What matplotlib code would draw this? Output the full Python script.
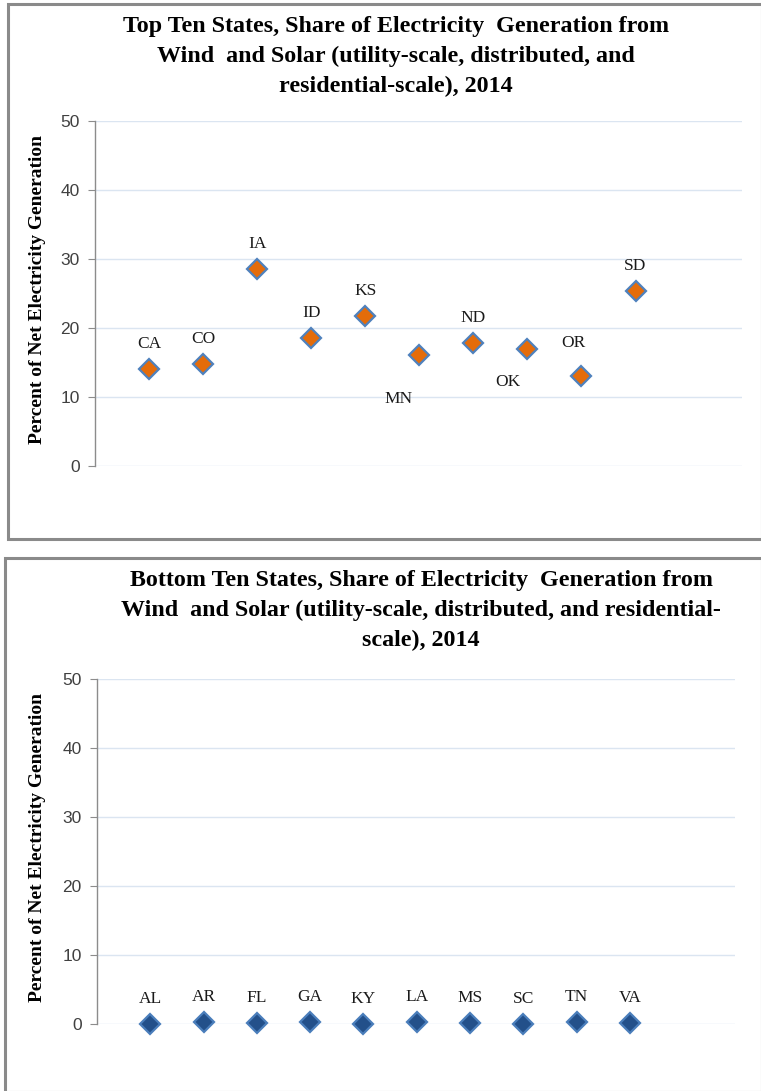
import matplotlib
matplotlib.use("Agg")
import matplotlib.pyplot as plt
from matplotlib.patches import Rectangle

# data (percent of net generation, 2014)
top_states = ['CA', 'CO', 'IA', 'ID', 'KS', 'MN', 'ND', 'OK', 'OR', 'SD']
top_share = [14.0, 14.8, 28.6, 18.5, 21.7, 16.1, 17.8, 17.0, 13.0, 25.4]

bottom_states = ['AL', 'AR', 'FL', 'GA', 'KY', 'LA', 'MS', 'SC', 'TN', 'VA']
bottom_share = [0.05, 0.35, 0.2, 0.3, 0.05, 0.25, 0.1, 0.05, 0.3, 0.1]

y_ticks = [0, 10, 20, 30, 40, 50]

top_title = ("Top Ten States, Share of Electricity  Generation from\n"
             "Wind  and Solar (utility-scale, distributed, and\n"
             "residential-scale), 2014")
bottom_title = ("Bottom Ten States, Share of Electricity  Generation from\n"
                "Wind  and Solar (utility-scale, distributed, and residential-\n"
                "scale), 2014")
y_label = "Percent of Net Electricity Generation"

# label offsets (points) for the hand-placed labels in the top chart
top_offsets = {'MN': (-15, -32), 'OK': (-14, -24), 'OR': (-6, 24)}

W, H = 761, 1091
fig = plt.figure(figsize=(W / 100, H / 100), dpi=100)

serif = 'Liberation Serif'
grid_c = '#dbe5f1'
spine_c = '#8c8c8c'


def px(x0, y0, x1, y1):
    # pixel box (top-left origin) -> figure fraction rect
    return [x0 / W, 1 - y1 / H, (x1 - x0) / W, (y1 - y0) / H]


def style_axes(ax):
    ax.set_xlim(0, 11.97)
    ax.set_ylim(0, 50)
    ax.set_yticks(y_ticks)
    ax.set_xticks([])
    for s in ['top', 'right', 'bottom']:
        ax.spines[s].set_visible(False)
    ax.spines['left'].set_color(spine_c)
    ax.spines['left'].set_linewidth(1)
    ax.tick_params(axis='y', length=5, color=spine_c, labelsize=12.5,
                   labelcolor='#404040', pad=6)
    for lab in ax.get_yticklabels():
        lab.set_fontfamily('Liberation Sans')
    ax.grid(axis='y', color=grid_c, linewidth=1)
    ax.set_axisbelow(True)


def draw_panel(rect_px, ax_px, states, share, face, edge, title, title_x, offsets):
    x0, y0, x1, y1 = rect_px
    fig.patches.append(Rectangle((x0 / W, 1 - y1 / H), (x1 - x0) / W, (y1 - y0) / H,
                                 transform=fig.transFigure, fill=False,
                                 edgecolor='#8a8a8a', linewidth=2.2))
    ax = fig.add_axes(px(*ax_px))
    style_axes(ax)
    xs = list(range(1, len(states) + 1))
    ax.plot(xs, share, linestyle='none', marker='D', markersize=10,
            markerfacecolor=face, markeredgecolor=edge, markeredgewidth=1.6,
            zorder=3, clip_on=False)
    for x, y, s in zip(xs, share, states):
        dx, dy = offsets.get(s, (0, 18))
        ax.annotate(s, (x, y), xytext=(dx, dy), textcoords='offset points',
                    ha='center', va='center', fontsize=12.5, family=serif,
                    color='#1a1a1a')
    fig.text(title_x / W, 1 - (y0 + 12) / H, title, ha='center', va='top',
             fontsize=17.3, fontweight='bold', family=serif, linespacing=1.55)
    ax_mid = (ax_px[1] + ax_px[3]) / 2 - 4
    fig.text(38 / W, 1 - ax_mid / H, y_label, rotation=90, ha='center',
             va='center', fontsize=14, fontweight='bold', family=serif)
    return ax


draw_panel((8, 4, 762, 539), (95, 121, 742, 466), top_states, top_share,
           '#e46c0a', '#4f81bd', top_title, 396, top_offsets)
draw_panel((5, 558, 762, 1092), (97, 679, 735, 1024), bottom_states, bottom_share,
           '#23508a', '#4a7ebb', bottom_title, 421, {})

fig.savefig('out.png', dpi=100)
